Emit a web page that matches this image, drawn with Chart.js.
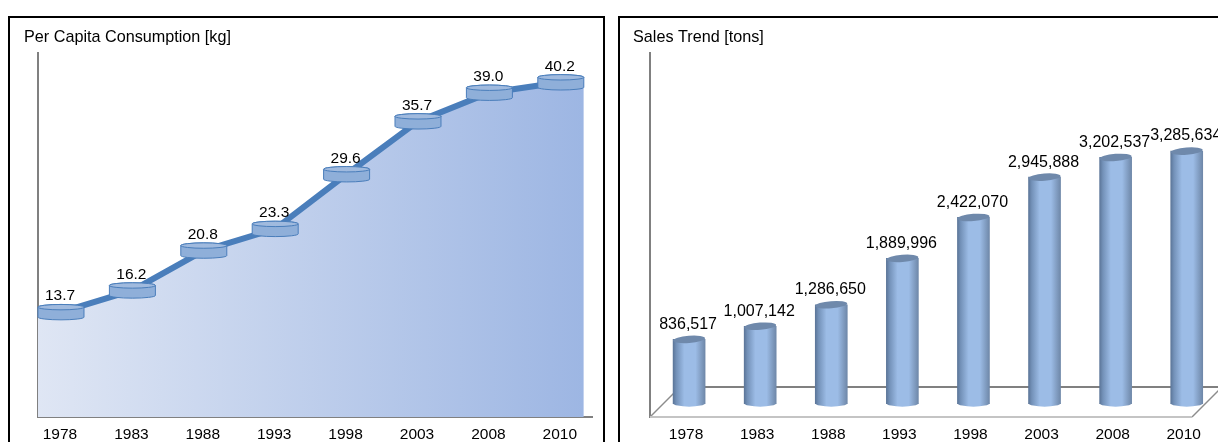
<!DOCTYPE html>
<html><head><meta charset="utf-8">
<script src="https://cdn.jsdelivr.net/npm/chart.js@4/dist/chart.umd.min.js"></script>
<style>
html,body{margin:0;padding:0;background:#fff;width:1218px;height:442px;overflow:hidden}
.panel{position:absolute;top:16px;height:440px;border:2px solid #000;box-sizing:border-box}
#p1{left:8px;width:597px}
#p2{left:618px;width:640px}
canvas{position:absolute}
#wrap1{position:absolute;left:10px;top:18px;width:593px;height:424px}
#wrap2{position:absolute;left:620px;top:18px;width:598px;height:424px}
</style></head><body>
<div class="panel" id="p1"></div><div class="panel" id="p2"></div>
<div id="wrap1"><canvas id="c1"></canvas></div>
<div id="wrap2"><canvas id="c2"></canvas></div>
<script>
const years = ['1978','1983','1988','1993','1998','2003','2008','2010'];
const perCapita = [13.7,16.2,20.8,23.3,29.6,35.7,39.0,40.2];
const sales = [836517,1007142,1286650,1889996,2422070,2945888,3202537,3285634];
const FONT = '"Liberation Sans", Arial, sans-serif';
const GREY = '#808080';

function xAxis(min,max,showBorder,off){
  return {type:'linear',min,max,offset:false,
    afterBuildTicks:s=>{s.ticks=years.map((_,i)=>({value:i}));},
    afterFit:s=>{s.height=25;},
    grid:{display:false,drawTicks:false},
    border:{display:showBorder,color:GREY,width:2},
    ticks:{autoSkip:false,maxRotation:0,padding:8,color:'#000',labelOffset:off,
      font:{family:FONT,size:15.5},
      callback:v=>years[v]}};
}
function yAxis(min,max,w){
  return {min,max,afterFit:s=>{s.width=w;},
    grid:{display:false,drawTicks:false},
    border:{color:GREY,width:2},
    ticks:{display:false}};
}
function title(text){
  return {display:true,text,align:'start',color:'#000',
    font:{family:FONT,size:16.2,weight:'normal'},
    padding:{top:10,bottom:6}};
}
function finite(n){return Number.isFinite(n);}

/* Left panel: line + gradient area + disc markers */
const discPlugin = {id:'discs',afterDatasetsDraw(chart){
  const c=chart.ctx, pts=chart.getDatasetMeta(1).data;
  pts.forEach((p,i)=>{
    const rx=23, ry=2.7, h=5, x=p.x, y=p.y;
    c.save();
    c.strokeStyle='#4a7ebb';c.lineWidth=1;c.fillStyle='#8fafd9';
    c.beginPath();
    c.ellipse(x,y+h,rx,ry,0,0,Math.PI);
    c.lineTo(x-rx,y-h);
    c.ellipse(x,y-h,rx,ry,0,Math.PI,2*Math.PI);
    c.closePath();c.fill();c.stroke();
    c.fillStyle='#a0bade';
    c.beginPath();c.ellipse(x,y-h,rx,ry,0,0,2*Math.PI);c.fill();c.stroke();
    c.fillStyle='#000';c.font='15.5px '+FONT;c.textAlign='center';c.textBaseline='middle';
    c.fillText(perCapita[i].toFixed(1),x-1,y-16);
    c.restore();
  });
}};
const PAD=0.322;
const areaData=[{x:-PAD,y:perCapita[0]},...perCapita.map((v,i)=>({x:i,y:v})),{x:years.length-1+PAD,y:perCapita[perCapita.length-1]}];
new Chart(document.getElementById('c1'),{
  type:'line',
  data:{datasets:[
    {order:2,data:areaData,fill:'start',borderWidth:0,pointRadius:0,tension:0,
      backgroundColor:ctx=>{
        const s=ctx.chart.scales.x;
        const fallback='#c5d3ec';
        if(!s) return fallback;
        const x0=s.getPixelForValue(-PAD),x1=s.getPixelForValue(7+PAD);
        if(!finite(x0)||!finite(x1)) return fallback;
        const g=ctx.chart.ctx.createLinearGradient(x0,0,x1,0);
        g.addColorStop(0,'#dfe6f4');g.addColorStop(1,'#9db6e3');return g;}},
    {order:1,data:perCapita.map((v,i)=>({x:i,y:v})),borderColor:'#4a7ebb',borderWidth:6,pointRadius:0,tension:0,fill:false}
  ]},
  options:{responsive:true,maintainAspectRatio:false,animation:false,
    layout:{padding:{left:14,right:11,top:0,bottom:0}},
    plugins:{legend:{display:false},tooltip:{enabled:false},title:title('Per Capita Consumption [kg]')},
    scales:{x:xAxis(-PAD,7.437,true,-1),y:yAxis(1.61,43.53,14)}},
  plugins:[discPlugin]
});

/* Right panel: cylinders on a 3D floor */
function barGrad(chart,cx,hw){
  const g=chart.ctx.createLinearGradient(cx-hw,0,cx+hw,0);
  g.addColorStop(0,'#5c7699');g.addColorStop(0.1,'#7391b8');g.addColorStop(0.35,'#9cbce6');
  g.addColorStop(0.7,'#9cbce6');g.addColorStop(1,'#6f88a9');return g;
}
const floorPlugin={id:'floor',beforeDatasetsDraw(chart){
  const c=chart.ctx,a=chart.chartArea;
  c.save();
  c.lineWidth=2;c.strokeStyle=GREY;
  c.beginPath();c.moveTo(a.left+30,a.bottom-30);c.lineTo(a.right+5,a.bottom-30);c.stroke();
  c.lineWidth=1.5;c.strokeStyle='#8c8c8c';
  c.beginPath();c.moveTo(a.left,a.bottom);c.lineTo(a.left+30,a.bottom-30);c.stroke();
  c.beginPath();c.moveTo(a.left+542,a.bottom);c.lineTo(a.left+572,a.bottom-30);c.stroke();
  c.lineWidth=2;c.strokeStyle='#c4c4c4';
  c.beginPath();c.moveTo(a.left,a.bottom);c.lineTo(a.left+542,a.bottom);c.stroke();
  c.restore();
},afterDatasetsDraw(chart){
  const c=chart.ctx;
  chart.getDatasetMeta(0).data.forEach((b,i)=>{
    const hw=16;
    c.save();
    c.fillStyle=barGrad(chart,b.x,hw);
    c.beginPath();c.ellipse(b.x,b.base-0.5,hw,3.5,0,0,Math.PI);c.fill();
    c.fillStyle='#6f89ab';
    c.beginPath();c.ellipse(b.x,b.y,hw,3.6,-0.08,0,2*Math.PI);c.fill();
    c.fillStyle='#000';c.font='16px '+FONT;c.textAlign='center';c.textBaseline='middle';
    c.fillText(sales[i].toLocaleString('en-US'),b.x-1,b.y-15);
    c.restore();
  });
}};
new Chart(document.getElementById('c2'),{
  type:'bar',
  data:{datasets:[{data:sales.map((v,i)=>({x:i,y:v})),barThickness:32,borderWidth:0,
    backgroundColor:ctx=>{
      const s=ctx.chart.scales.x;
      if(!s||ctx.dataIndex===undefined) return '#8fb0dc';
      const px=s.getPixelForValue(ctx.dataIndex);
      if(!finite(px)) return '#8fb0dc';
      return barGrad(ctx.chart,px,16);}}]},
  options:{responsive:true,maintainAspectRatio:false,animation:false,
    layout:{padding:{left:13,right:0,top:0,bottom:0}},
    plugins:{legend:{display:false},tooltip:{enabled:false},title:title('Sales Trend [tons]')},
    scales:{x:xAxis(-0.55,7.44,false,-3),y:yAxis(-174000,4555700,17)}},
  plugins:[floorPlugin]
});
</script>
</body></html>
